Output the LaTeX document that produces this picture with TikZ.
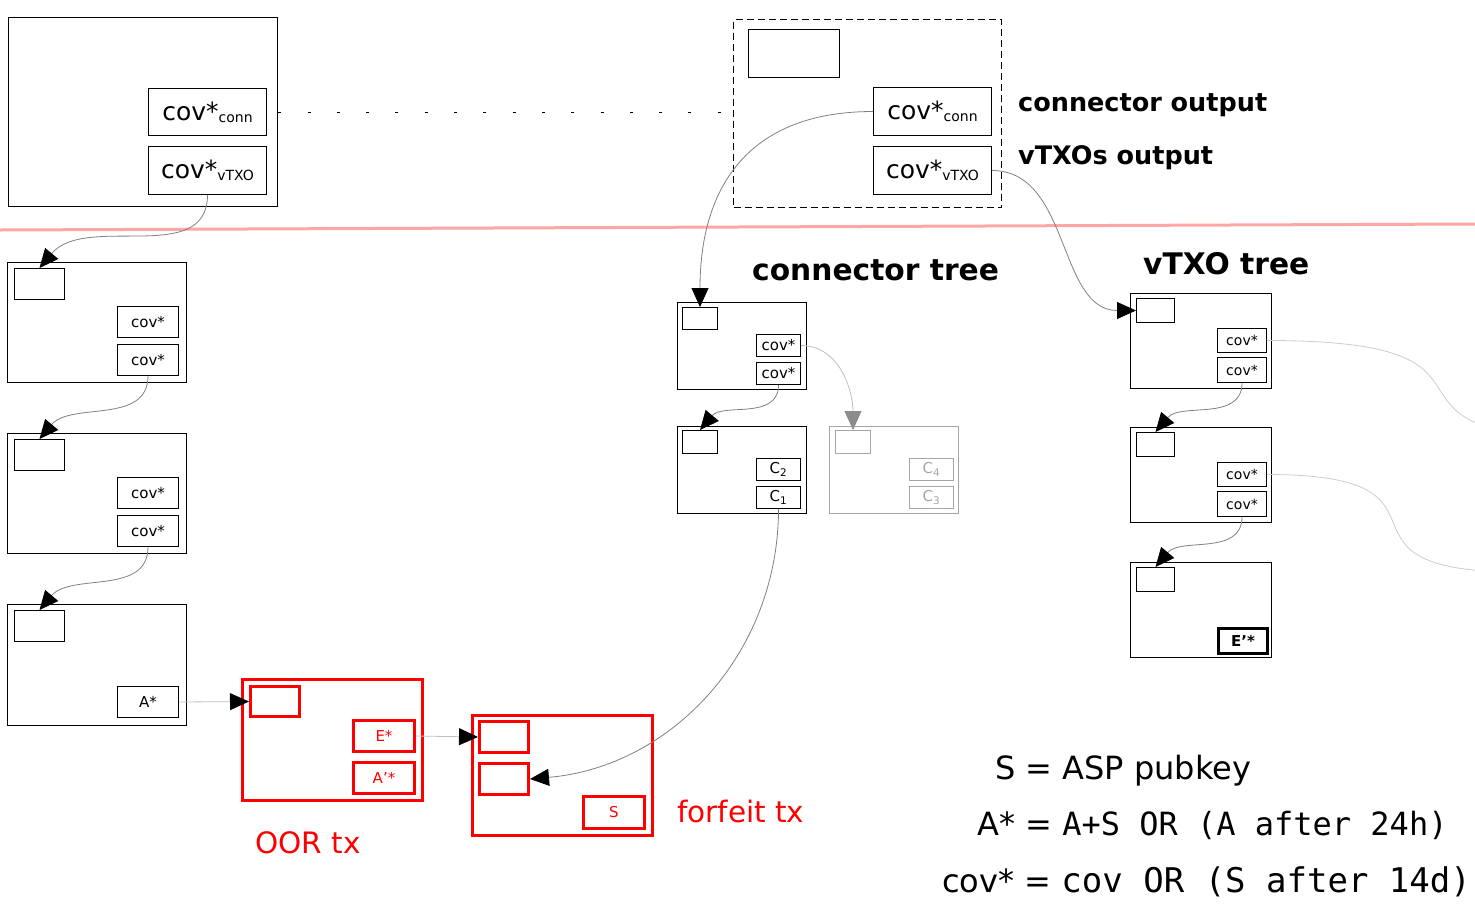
\documentclass[tikz,border=0pt]{standalone}
\usepackage{fontspec}
\setmainfont{DejaVu Sans}
\newfontfamily\legendmono{DejaVu Sans Mono}
\usetikzlibrary{arrows.meta}
\newcommand\fs[1]{\fontsize{#1}{#1}\selectfont}
\newcommand\subtx[1]{\raisebox{-2pt}{\fs{14}#1}}

\begin{document}
\begin{tikzpicture}[x=1pt,y=-1pt,
  tx/.style 2 args={draw,line width=1.2pt,anchor=north west,inner sep=0pt,
    minimum width=#1pt,minimum height=#2pt},
  slot/.style 2 args={draw,line width=1pt,anchor=north west,inner sep=0pt,
    minimum width=#1pt,minimum height=#2pt,font=\fs{15}},
  faded/.style={draw=black!35,text=black!35},
  redtx/.style={draw=red,text=red,line width=3pt},
  title/.style={font=\bfseries\fs{29.7},anchor=base west,inner sep=0pt},
  legend/.style={font=\fs{32},anchor=base west,inner sep=0pt},
  conn/.style={-{Triangle[length=19pt,width=17pt,color=black]},line width=0.8pt,draw=black!50},
  faint/.style={line width=0.8pt,draw=black!20}
]
\clip (0,0) rectangle (1475,911);

% funding tx
\node[tx={269}{189}] (t0) at (8,17) {};
\node[slot={118}{47},font=\fs{25}] (cc0) at (148,88) {cov*\subtx{conn}};
\node[slot={118}{48},font=\fs{25}] (cv0) at (148,146) {cov*\subtx{vTXO}};

% round tx
\node[tx={268}{188},dash pattern=on 7pt off 4pt] (rt) at (733,19) {};
\node[slot={91}{48}] (rtin) at (748,29) {};
\node[slot={118}{48},font=\fs{25}] (cc1) at (873,87) {cov*\subtx{conn}};
\node[slot={118}{48},font=\fs{25}] (cv1) at (873,146) {cov*\subtx{vTXO}};
\draw[dash pattern=on 3pt off 26.3pt,line width=1pt] (t0.east |- cc0) -- (rt.west |- cc0);
\node[title,font=\bfseries\fs{25.5}] (lco) at (1018,111) {connector output};
\node[title,font=\bfseries\fs{25.5}] (lvo) at (1018,164) {vTXOs output};

\draw[red!35,line width=3pt] (0,230) -- (1475,224);

% unilateral exit chain
\foreach \i/\y in {1/262,2/433}
{
	\node[tx={179}{120}] (l\i) at (7,\y) {};
	\node[slot={50}{31}] (lin\i) at (14,\y+6) {};
	\node[slot={61}{31}] (la\i) at (117,\y+44) {cov*};
	\node[slot={61}{31}] (lb\i) at (117,\y+82) {cov*};
}
\node[tx={179}{121}] (l3) at (7,604) {};
\node[slot={50}{31}] (lin3) at (14,610) {};
\node[slot={61}{31}] (la3) at (117,686) {A*};
\draw[conn] (cv0.south) to[out=-90,in=50] (lin1.north);
\foreach \i/\j in {1/2,2/3}
	\draw[conn] (lb\i.south) to[out=-90,in=50] (lin\j.north);

% OOR and forfeit
\node[tx={180}{121},redtx] (oor) at (241,678) {};
\node[slot={49}{30},redtx] (oin) at (249,685) {};
\node[slot={61}{31},redtx] (oe) at (352,719) {E*};
\node[slot={61}{31},redtx] (oa) at (352,761) {A’*};
\node[title,font=\fs{29.5},text=red] (lbo) at (255,853) {OOR tx};
\node[tx={180}{120},redtx] (ff) at (471,714) {};
\node[slot={49}{31},redtx] (fin1) at (478,720) {};
\node[slot={49}{31},redtx] (fin2) at (478,762) {};
\node[slot={61}{32},redtx] (fs) at (582,795) {S};
\node[title,font=\fs{29.5},text=red] (lbf) at (677,822) {forfeit tx};
\draw[conn,draw=black!25] (la3.east) -- (oin.west);
\draw[conn,draw=black!25] (oe.east) -- (fin1.west);

% connector tree
\node[title] (lct) at (752,280) {connector tree};
\node[tx={129}{87}] (ct1) at (677,302) {};
\node[slot={35}{22}] (ctin1) at (682,307) {};
\node[slot={44}{22}] (cta1) at (756,334) {cov*};
\node[slot={44}{22}] (ctb1) at (756,362) {cov*};
\node[tx={129}{87}] (ct2) at (677,426) {};
\node[slot={35}{23}] (ctin2) at (682,430) {};
\node[slot={44}{22}] (c2) at (756,458) {C\textsubscript{2}};
\node[slot={44}{22}] (c1) at (756,486) {C\textsubscript{1}};
\node[tx={129}{87},faded] (ct3) at (829,426) {};
\node[slot={35}{23},faded] (ctin3) at (835,430) {};
\node[slot={44}{22},faded] (c4) at (909,458) {C\textsubscript{4}};
\node[slot={44}{22},faded] (c3) at (909,486) {C\textsubscript{3}};
\draw[conn] (cc1.west) to[out=180,in=90,looseness=1.2] (ctin1.north);
\draw[conn] (ctb1.south) to[out=-90,in=50] (ctin2.north);
\draw[conn,draw=black!25,-{Triangle[length=19pt,width=17pt,color=black!45]}] (cta1.east) to[out=0,in=90] (ctin3.north);
\draw[conn] (c1.south) to[out=-90,in=5] (fin2.east);

% vTXO tree
\node[title] (lvt) at (1143,274) {vTXO tree};
\foreach \i/\y in {1/293,2/427}
{
	\node[tx={141}{95}] (v\i) at (1130,\y) {};
	\node[slot={38}{24}] (vin\i) at (1136,\y+5) {};
	\node[slot={49}{24},font=\fs{14}] (va\i) at (1217,\y+35) {cov*};
	\node[slot={49}{25},font=\fs{14}] (vb\i) at (1217,\y+64) {cov*};
}
\node[tx={141}{95}] (v3) at (1130,562) {};
\node[slot={38}{24}] (vin3) at (1136,567) {};
\node[slot={49}{25},line width=3pt,font=\bfseries\fs{15}] (ve) at (1217,627) {E’*};
\draw[conn] (cv1.east) to[out=0,in=180] (vin1.west);
\foreach \i/\j in {1/2,2/3}
	\draw[conn] (vb\i.south) to[out=-90,in=50] (vin\j.north);
\coordinate (vout1) at (1613,440);
\coordinate (vout2) at (1520,572);
\draw[faint] (va1.east) to[out=0,in=180,looseness=2] (vout1);
\draw[faint] (va2.east) to[out=0,in=180,looseness=2] (vout2);

% legend
\node[legend] (k1) at (995,779) {S = ASP pubkey};
\node[legend] (k2) at (977,835) {A* = {\legendmono A+S OR (A after 24h)}};
\node[legend] (k3) at (942,892) {cov* = {\legendmono\fs{34}cov OR (S after 14d)}};
\end{tikzpicture}
\end{document}
